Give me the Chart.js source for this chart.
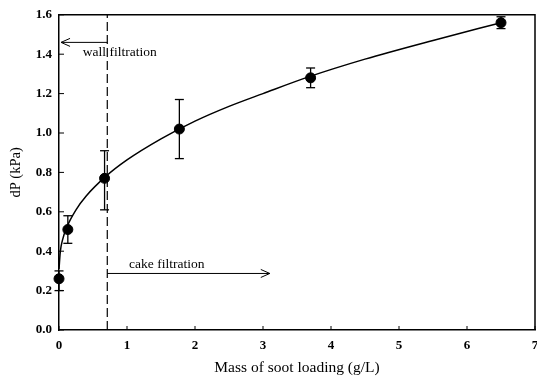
<!DOCTYPE html>
<html>
<head>
<meta charset="utf-8">
<script src="https://cdn.jsdelivr.net/npm/chart.js@4/dist/chart.umd.min.js"></script>
<style>
  html, body { margin: 0; padding: 0; background: #fff; overflow: hidden; }
  /* a bit wider than the window so the "7" label gets cut at the edge like the original */
  #wrap { width: 541px; height: 377px; position: relative; }
</style>
</head>
<body>
<div id="wrap"><canvas id="grafica"></canvas></div>
<script>
// measured points (mass of soot g/L, dP kPa) with error bar ends
const massX = [0, 0.13, 0.67, 1.77, 3.7, 6.5];
const dpY = [0.26, 0.51, 0.77, 1.02, 1.28, 1.56];
const dpLow = [0.20, 0.44, 0.61, 0.87, 1.23, 1.53];
const dpHigh = [0.30, 0.58, 0.91, 1.17, 1.33, 1.59];

// fitted curve
const fitX = [0, 0.02, 0.05, 0.12, 0.25, 0.4, 0.68, 1.0, 1.5, 2, 2.5, 3, 3.68, 4.5, 5.5, 6.5];
const fitY = [0.31, 0.40, 0.455, 0.526, 0.61, 0.68, 0.777, 0.863, 0.97, 1.06, 1.135, 1.20, 1.286, 1.375, 1.47, 1.56];

// regime boundary and labels
const boundaryX = 0.71;
const wallArrow = [boundaryX, 0.03, 1.46];
const cakeArrow = [boundaryX, 3.1, 0.287];
const wallLabel = ["wall filtration", 0.35, 1.41];
const cakeLabel = ["cake filtration", 1.03, 0.334];

const serif = '"Liberation Serif", "Times New Roman", serif';

const extras = {
  id: "extras",
  afterDatasetsDraw(chart) {
    const { ctx, chartArea: a, scales: { x, y } } = chart;
    const seg = (x1, y1, x2, y2) => {
      ctx.beginPath();
      ctx.moveTo(x1, y1);
      ctx.lineTo(x2, y2);
      ctx.stroke();
    };
    ctx.save();
    ctx.strokeStyle = "#000";
    ctx.fillStyle = "#000";

    // top and right frame
    ctx.lineWidth = 1.5;
    ctx.beginPath();
    ctx.moveTo(a.left, a.top);
    ctx.lineTo(a.right, a.top);
    ctx.lineTo(a.right, a.bottom);
    ctx.stroke();

    // inward tick marks
    ctx.lineWidth = 1;
    x.ticks.forEach((t) => {
      const px = x.getPixelForValue(t.value);
      seg(px, a.bottom, px, a.bottom - 4);
    });
    y.ticks.forEach((t) => {
      const py = y.getPixelForValue(t.value);
      seg(a.left, py, a.left + 5, py);
    });

    // error bars
    ctx.lineWidth = 1.3;
    massX.forEach((v, i) => {
      const px = x.getPixelForValue(v);
      const top = y.getPixelForValue(dpHigh[i]);
      const bot = y.getPixelForValue(dpLow[i]);
      seg(px, top, px, bot);
      seg(px - 4.5, top, px + 4.5, top);
      seg(px - 4.5, bot, px + 4.5, bot);
    });

    // arrows
    ctx.lineWidth = 1;
    [wallArrow, cakeArrow].forEach(([from, to, yy]) => {
      const x1 = x.getPixelForValue(from);
      const x2 = x.getPixelForValue(to);
      const py = y.getPixelForValue(yy);
      const dir = x2 > x1 ? 1 : -1;
      seg(x1, py, x2, py);
      ctx.beginPath();
      ctx.moveTo(x2 - dir * 9, py - 4);
      ctx.lineTo(x2, py);
      ctx.lineTo(x2 - dir * 9, py + 4);
      ctx.stroke();
    });

    // labels
    ctx.font = "13.5px " + serif;
    ctx.textBaseline = "middle";
    ctx.textAlign = "left";
    [wallLabel, cakeLabel].forEach(([txt, lx, ly]) => {
      ctx.fillText(txt, x.getPixelForValue(lx), y.getPixelForValue(ly));
    });
    ctx.restore();
  },
};

const toPts = (xs, ys) => xs.map((v, i) => ({ x: v, y: ys[i] }));

new Chart(document.getElementById("grafica"), {
  type: "scatter",
  data: {
    datasets: [
      {
        label: "fit",
        data: toPts(fitX, fitY),
        showLine: true,
        borderColor: "#000",
        borderWidth: 1.5,
        pointRadius: 0,
        cubicInterpolationMode: "monotone",
      },
      {
        label: "boundary",
        data: [{ x: boundaryX, y: 0 }, { x: boundaryX, y: 1.6 }],
        showLine: true,
        borderColor: "#000",
        borderWidth: 1.2,
        borderDash: [9, 4],
        pointRadius: 0,
      },
      {
        label: "dP",
        data: toPts(massX, dpY),
        backgroundColor: "#000",
        borderColor: "#000",
        pointRadius: 5,
        clip: false,
      },
    ],
  },
  options: {
    responsive: true,
    maintainAspectRatio: false,
    animation: false,
    layout: { padding: { top: 14, right: 2, left: 0, bottom: 0 } },
    plugins: {
      legend: { display: false },
      tooltip: { enabled: false },
    },
    scales: {
      x: {
        type: "linear",
        min: 0,
        max: 7,
        ticks: {
          stepSize: 1,
          padding: 0,
          color: "#000",
          font: { family: serif, size: 13, weight: "bold" },
        },
        // invisible outer ticks just space the labels; inward ticks drawn by plugin
        grid: { drawOnChartArea: false, drawTicks: true, tickLength: 8, color: "transparent" },
        border: { color: "#000", width: 1.5 },
        title: {
          display: true,
          text: "Mass of soot loading (g/L)",
          color: "#000",
          font: { family: serif, size: 15.5 },
          padding: { top: 0, bottom: 0 },
        },
        afterFit(scale) {
          scale.height = 47;
        },
      },
      y: {
        min: 0,
        max: 1.6,
        ticks: {
          stepSize: 0.2,
          padding: 7,
          color: "#000",
          font: { family: serif, size: 13, weight: "bold" },
          callback: (v) => Number(v).toFixed(1),
        },
        grid: { drawOnChartArea: false, drawTicks: false },
        border: { color: "#000", width: 1.5 },
        title: {
          display: true,
          text: "dP (kPa)",
          color: "#000",
          font: { family: serif, size: 14.5 },
          padding: { top: 7, bottom: 0 },
        },
        afterFit(scale) {
          scale.width = 59;
        },
      },
    },
  },
  plugins: [extras],
});
</script>
</body>
</html>
